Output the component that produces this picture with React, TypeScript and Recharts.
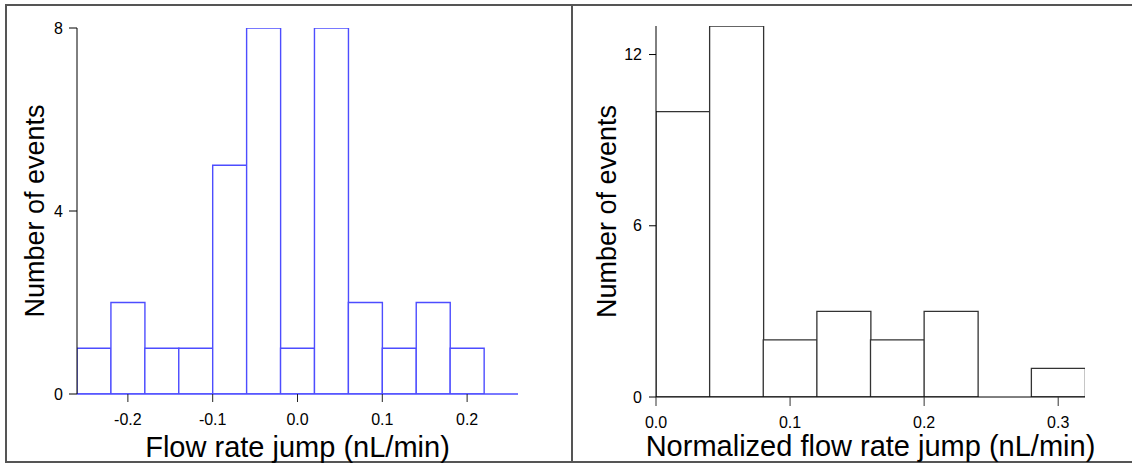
import React from 'react';
import { BarChart, Bar, XAxis, YAxis, Label } from 'recharts';

// left histogram: raw flow rate jumps, bins of 0.04 (bin centres)
const flowBinCenters = [-0.24, -0.2, -0.16, -0.12, -0.08, -0.04, 0, 0.04, 0.08, 0.12, 0.16, 0.2, 0.24];
const flowCounts = [1, 2, 1, 1, 5, 8, 1, 8, 2, 1, 2, 1, 0];
const flowTicks = [-0.2, -0.1, 0, 0.1, 0.2];
const flowCountTicks = [0, 4, 8];

// right histogram: normalized jumps, bins of 0.04 (bin centres)
const normBinCenters = [0.02, 0.06, 0.1, 0.14, 0.18, 0.22, 0.26, 0.3];
const normCounts = [10, 13, 2, 3, 2, 3, 0, 1];
const normTicks = [0, 0.1, 0.2, 0.3];
const normCountTicks = [0, 6, 12];

const FONT = '"Liberation Sans", Arial, sans-serif';
const BLUE = '#4d4dff';
const FRAME = '#555555';

const tickStyle = { fill: '#000', fontSize: 16 };
const fmt = (v: number) => v.toFixed(1);

const App: React.FC = () => {
  const flowData = flowBinCenters.map((mid, i) => ({ mid, count: flowCounts[i] }));
  const normData = normBinCenters.map((mid, i) => ({ mid, count: normCounts[i] }));

  return (
    <div
      style={{
        position: 'absolute',
        left: 0,
        top: 0,
        width: 1132,
        height: 467,
        background: '#fff',
        fontFamily: FONT,
      }}
    >
      {/* frame */}
      <div
        style={{
          position: 'absolute',
          left: 5,
          top: 4,
          width: 1127,
          height: 459,
          boxSizing: 'border-box',
          borderTop: `2px solid ${FRAME}`,
          borderLeft: `2px solid ${FRAME}`,
          borderBottom: `2px solid ${FRAME}`,
        }}
      />
      <div style={{ position: 'absolute', left: 571, top: 4, width: 2, height: 459, background: FRAME }} />

      <div style={{ position: 'absolute', left: 0, top: 0 }}>
        <BarChart
          width={572}
          height={467}
          data={flowData}
          margin={{ top: 28, right: 54, bottom: 0, left: 0 }}
          barCategoryGap={0}
          barGap={0}
        >
          <XAxis
            dataKey="mid"
            type="number"
            domain={[-0.26, 0.26]}
            allowDataOverflow
            ticks={flowTicks}
            tickFormatter={fmt}
            height={73}
            axisLine={{ stroke: BLUE, strokeWidth: 1.5 }}
            tickLine={{ stroke: '#222' }}
            tickSize={8}
            tickMargin={12}
            fontSize={16}
            tick={tickStyle}
          >
            <Label value="Flow rate jump (nL/min)" position="insideBottom" offset={10} fontSize={29} fill="#000" />
          </XAxis>
          <YAxis
            width={77}
            domain={[0, 8]}
            ticks={flowCountTicks}
            allowDataOverflow
            axisLine={{ stroke: '#000' }}
            tickLine={{ stroke: '#000' }}
            tickSize={8}
            tickMargin={6}
            fontSize={16}
            tick={tickStyle}
          >
            <Label value="Number of events" angle={-90} position="center" dx={-4.5} fontSize={27} fill="#000" />
          </YAxis>
          <Bar
            dataKey="count"
            fill="#fff"
            stroke={BLUE}
            strokeWidth={1.4}
            isAnimationActive={false}
          />
        </BarChart>
      </div>

      <div style={{ position: 'absolute', left: 572, top: 0 }}>
        <BarChart
          width={560}
          height={467}
          data={normData}
          margin={{ top: 26, right: 47, bottom: 0, left: 0 }}
          barCategoryGap={0}
          barGap={0}
        >
          <XAxis
            dataKey="mid"
            type="number"
            domain={[0, 0.32]}
            allowDataOverflow
            ticks={normTicks}
            tickFormatter={fmt}
            height={70}
            axisLine={{ stroke: '#000' }}
            tickLine={{ stroke: '#333' }}
            tickSize={9}
            tickMargin={11}
            fontSize={16}
            tick={tickStyle}
          >
            <Label value="Normalized flow rate jump (nL/min)" position="insideBottom" offset={11} fontSize={29} fill="#000" />
          </XAxis>
          <YAxis
            width={84}
            domain={[0, 13]}
            ticks={normCountTicks}
            allowDataOverflow
            axisLine={{ stroke: '#000' }}
            tickLine={{ stroke: '#000' }}
            tickSize={7}
            tickMargin={7}
            fontSize={16}
            tick={tickStyle}
          >
            <Label value="Number of events" angle={-90} position="center" dx={-8} fontSize={27} fill="#000" />
          </YAxis>
          <Bar
            dataKey="count"
            fill="#fff"
            stroke="#333"
            strokeWidth={1.3}
            isAnimationActive={false}
          />
        </BarChart>
      </div>
    </div>
  );
};

export default App;
